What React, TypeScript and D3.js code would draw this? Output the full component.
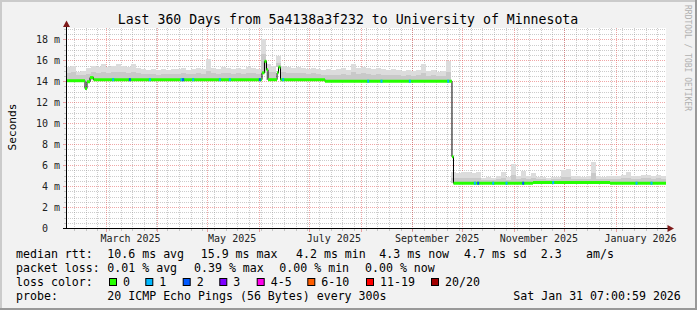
import React from "react";
import * as d3 from "d3";

// ---------- DATA ----------
const START = new Date(Date.UTC(2025, 1, 5, 7, 0, 59));
const END = new Date(Date.UTC(2026, 0, 31, 7, 0, 59));
const BIN_DAYS = 3; // smoke bins, 120 bins over 360 days

// upper edge of the smoke (ms), per 3-day bin
const smokeHi = [
  15.4, 15.5, 14.9, 15.0, 15.3, 15.5, 15.4, 15.6, 15.4, 15.5,
  15.6, 15.5, 15.4, 15.6, 15.3, 15.2, 15.1, 15.2, 15.1, 15.2,
  15.1, 15.2, 15.2, 15.3, 15.1, 15.2, 15.3, 15.2, 16.1, 15.3,
  15.2, 15.4, 15.3, 15.2, 15.3, 15.2, 15.4, 15.3, 15.2, 18.0,
  15.6, 15.5, 16.4, 15.5, 15.4, 15.3, 15.4, 15.3, 15.2, 15.3,
  15.2, 15.1, 15.2, 15.1, 15.2, 15.3, 15.1, 15.6, 15.3, 15.4,
  15.3, 15.2, 15.3, 15.2, 15.1, 15.2, 15.1, 15.0, 15.1, 15.0,
  15.1, 15.6, 15.0, 15.1, 14.9, 15.0, 15.9, 5.3, 5.2, 5.3,
  5.3, 5.2, 5.3, 4.8, 4.9, 4.8, 5.0, 5.3, 4.9, 6.1,
  5.0, 5.4, 5.0, 5.2, 4.9, 4.9, 4.8, 4.9, 4.9, 5.5,
  5.6, 5.0, 5.0, 4.9, 5.0, 6.3, 5.0, 4.9, 5.0, 5.0,
  5.0, 5.1, 5.3, 5.0, 5.0, 5.1, 5.1, 5.0, 5.1, 5.0,
];

// upper edge of the denser inner smoke (ms), per 3-day bin
const smokeMid = [
  14.8, 14.9, 14.6, 14.6, 14.7, 14.9, 14.8, 14.9, 14.8, 14.9,
  14.9, 14.9, 14.8, 14.9, 14.8, 14.7, 14.7, 14.7, 14.6, 14.7,
  14.7, 14.7, 14.7, 14.8, 14.7, 14.7, 14.8, 14.7, 15.0, 14.8,
  14.7, 14.8, 14.8, 14.7, 14.8, 14.7, 14.8, 14.8, 14.7, 16.6,
  14.9, 14.9, 15.7, 14.9, 14.8, 14.8, 14.8, 14.8, 14.7, 14.8,
  14.7, 14.6, 14.6, 14.6, 14.6, 14.7, 14.6, 14.9, 14.7, 14.8,
  14.7, 14.6, 14.7, 14.6, 14.6, 14.6, 14.6, 14.5, 14.6, 14.5,
  14.6, 14.8, 14.5, 14.6, 14.5, 14.5, 14.9, 4.8, 4.8, 4.8,
  4.8, 4.8, 4.8, 4.6, 4.6, 4.6, 4.7, 4.8, 4.6, 5.1,
  4.7, 4.8, 4.7, 4.8, 4.7, 4.7, 4.6, 4.7, 4.7, 4.9,
  4.9, 4.7, 4.7, 4.7, 4.7, 5.2, 4.7, 4.7, 4.7, 4.7,
  4.7, 4.8, 4.8, 4.7, 4.7, 4.8, 4.8, 4.7, 4.8, 4.7,
];

// median rtt (ms) as steps: value holds from its date until the next one
const medianDates = [
  "2025-02-05T07:00:59Z", "2025-02-16T17:00:00Z", "2025-02-17T21:00:00Z",
  "2025-02-19T17:00:00Z", "2025-02-21T19:00:00Z", "2025-06-02T21:00:00Z",
  "2025-06-04T09:00:00Z", "2025-06-05T14:00:00Z", "2025-06-06T12:00:00Z",
  "2025-06-11T22:00:00Z", "2025-06-12T19:00:00Z", "2025-06-14T00:00:00Z",
  "2025-07-10T17:00:00Z", "2025-09-24T21:00:00Z", "2025-09-25T19:00:00Z",
  "2025-11-12T12:00:00Z", "2025-12-28T17:00:00Z",
];
const medianValues = [
  14.05, 13.3, 13.95, 14.35, 14.15, 14.8, 15.9, 15.1, 14.15, 14.8, 15.35,
  14.15, 14.0, 6.8, 4.27, 4.33, 4.27,
];

// samples with packet loss (date, lost pings)
const lossDates = [
  "2025-03-05", "2025-03-15", "2025-03-27", "2025-04-15", "2025-04-16",
  "2025-04-22", "2025-05-08", "2025-05-14", "2025-06-01", "2025-06-15",
  "2025-08-05", "2025-08-13", "2025-08-30", "2025-09-22", "2025-10-08",
  "2025-10-10", "2025-10-19", "2025-10-27", "2025-11-06", "2025-11-24",
  "2026-01-13", "2026-01-22",
];
const lossCounts = [1, 2, 1, 1, 2, 1, 1, 1, 2, 1, 1, 1, 1, 1, 1, 2, 1, 1, 2, 1, 1, 1];

const lossLabels = ["0", "1", "2", "3", "4-5", "6-10", "11-19", "20/20"];
const lossColors = ["#26ff00", "#00b8ff", "#0059ff", "#7e00ff", "#ff00ea", "#ff5e00", "#ff0000", "#a10000"];

const yTickValues = [0, 2, 4, 6, 8, 10, 12, 14, 16, 18];

const titleText = "Last 360 Days from 5a4138a3f232 to University of Minnesota";
const rttLabel = "median rtt:";
const rttItems = ["10.6 ms avg", "15.9 ms max", "4.2 ms min", "4.3 ms now", "4.7 ms sd", "2.3", "am/s"];
const lossLabel = "packet loss:";
const lossItems = ["0.01 % avg", "0.39 % max", "0.00 % min", "0.00 % now"];
const probeLabel = "probe:";
const probeText = "20 ICMP Echo Pings (56 Bytes) every 300s";
const stampText = "Sat Jan 31 07:00:59 2026";

// ---------- LAYOUT ----------
const W = 697, H = 310;
const L = 66, R = 666, T = 28, B = 228;
const MONO = "'DejaVu Sans Mono', 'Liberation Mono', monospace";
const DAY = 86400000;

export default function App() {
  const x = d3.scaleUtc().domain([START, END]).range([L, R]);
  const y = d3.scaleLinear().domain([0, 19.08]).range([B, T]);
  const crisp = (v: number) => Math.round(v) + 0.5;

  const steps = medianDates.map((d, i) => ({ date: new Date(d), v: medianValues[i] }));
  const bis = d3.bisector((d: { date: Date }) => d.date).right;
  const medianAt = (t: Date) => steps[Math.max(0, bis(steps, t) - 1)].v;

  const gridColor = "rgba(143,143,143,0.45)";
  const mgridColor = "rgba(222,60,60,0.45)";

  // grid
  const minorY = d3.range(0.5, 19.08, 0.5).filter((v) => Math.abs(v % 2) > 1e-6);
  const majorY = yTickValues.filter((v) => v > 0);
  const weeks = d3.utcMonday.range(START, END);
  const months = d3.utcMonth.range(START, END);
  const labelMonths = months.filter((m) => m.getUTCMonth() % 2 === 0);
  const fmt = d3.utcFormat("%B %Y");

  // smoke
  const bins = smokeHi.map((hi, i) => {
    const t0 = new Date(START.getTime() + i * BIN_DAYS * DAY);
    const t1 = new Date(START.getTime() + (i + 1) * BIN_DAYS * DAY);
    const tc = new Date((t0.getTime() + t1.getTime()) / 2);
    return { x0: x(t0), x1: x(t1), hi, mid: smokeMid[i], med: medianAt(tc) };
  });

  // black median step line
  const linePts: [number, number][] = steps.map((s) => [x(s.date), y(s.v)]);
  linePts.push([x(END), y(steps[steps.length - 1].v)]);
  const stepLine = d3.line().curve(d3.curveStepAfter)(linePts) || "";

  const rows = [258, 272, 286, 300];
  const rttX = [107.3, 200.7, 296, 379.3, 464, 540.7, 586];
  const lossX = [107.3, 194, 279.3, 365];
  const boxX = [109, 145.3, 182.7, 219.3, 256.7, 307.3, 366, 431];

  return (
    <svg width={W} height={H} style={{ position: "fixed", left: 0, top: 0 }} fontFamily={MONO}>
      <rect x={0} y={0} width={W} height={H} fill="#f2f2f2" />
      {/* 3D border */}
      <rect x={0} y={0} width={W} height={2} fill="#cbcbcb" />
      <rect x={0} y={0} width={2} height={H} fill="#cbcbcb" />
      <rect x={0} y={H - 2} width={W} height={2} fill="#999999" />
      <rect x={W - 2} y={0} width={2} height={H} fill="#999999" />

      {/* canvas */}
      <rect x={L} y={T} width={R - L} height={B - T} fill="#ffffff" />

      {/* minor grid */}
      <g stroke={gridColor} strokeWidth={1} strokeDasharray="1,1" fill="none">
        {minorY.map((v) => (
          <line key={"my" + v} x1={L} x2={R} y1={crisp(y(v))} y2={crisp(y(v))} />
        ))}
        {weeks.map((w) => (
          <line key={"mx" + w.getTime()} x1={crisp(x(w))} x2={crisp(x(w))} y1={T} y2={B} />
        ))}
      </g>
      {/* major grid */}
      <g stroke={mgridColor} strokeWidth={1} strokeDasharray="1,1" fill="none">
        {majorY.map((v) => (
          <line key={"My" + v} x1={L} x2={R} y1={crisp(y(v))} y2={crisp(y(v))} />
        ))}
        {months.map((m) => (
          <line key={"Mx" + m.getTime()} x1={crisp(x(m))} x2={crisp(x(m))} y1={T} y2={B} />
        ))}
      </g>
      {/* ticks */}
      <g strokeWidth={1}>
        {minorY.map((v) => (
          <line key={"ty" + v} x1={64} x2={66} y1={crisp(y(v))} y2={crisp(y(v))} stroke={gridColor} />
        ))}
        {yTickValues.map((v) => (
          <line key={"tY" + v} x1={63} x2={66} y1={crisp(y(v))} y2={crisp(y(v))} stroke={v === 0 ? "#000" : mgridColor} />
        ))}
        {weeks.map((w) => (
          <line key={"tx" + w.getTime()} x1={crisp(x(w))} x2={crisp(x(w))} y1={229} y2={231} stroke={gridColor} />
        ))}
        {months.map((m) => (
          <line key={"tX" + m.getTime()} x1={crisp(x(m))} x2={crisp(x(m))} y1={229} y2={232} stroke={mgridColor} />
        ))}
      </g>

      {/* smoke */}
      <g shapeRendering="crispEdges">
        {bins.map((b, i) => (
          <rect key={"sh" + i} x={b.x0} y={y(b.hi)} width={b.x1 - b.x0} height={Math.max(0, y(b.med) - y(b.hi))} fill="#dcdcdc" />
        ))}
        {bins.map((b, i) => (
          <rect key={"sm" + i} x={b.x0} y={y(b.mid)} width={b.x1 - b.x0} height={Math.max(0, y(b.med) - y(b.mid))} fill="#c9c9c9" />
        ))}
      </g>

      {/* median */}
      <path d={stepLine} fill="none" stroke="#000" strokeWidth={1} />
      <g strokeWidth={3} fill="none">
        {steps.map((s, i) => {
          const tEnd = i + 1 < steps.length ? steps[i + 1].date : END;
          return <line key={"g" + i} x1={x(s.date)} x2={x(tEnd)} y1={y(s.v)} y2={y(s.v)} stroke={lossColors[0]} />;
        })}
        {lossDates.map((d, i) => {
          const t0 = new Date(d + "T00:00:00Z");
          const t1 = new Date(t0.getTime() + 1.2 * DAY);
          const v = medianAt(t0);
          return <line key={"l" + i} x1={x(t0)} x2={x(t1)} y1={y(v)} y2={y(v)} stroke={lossColors[lossCounts[i]]} />;
        })}
      </g>

      {/* axes */}
      <line x1={66.5} x2={66.5} y1={B + 0.5} y2={24} stroke="#000" strokeWidth={1} />
      <line x1={L} x2={670} y1={228.5} y2={228.5} stroke="#000" strokeWidth={1} />
      <path d="M66.5,20.5 L63,27 L70,27 Z" fill="#7f1a1a" />
      <path d="M674,228.5 L667.5,225 L667.5,232 Z" fill="#7f1a1a" />

      {/* y labels */}
      <g fontSize={10} fill="#222">
        {yTickValues.map((v) => (
          <text key={"yl" + v} x={v === 0 ? 48 : 60} y={y(v) + 3.6} textAnchor="end">
            {v === 0 ? "0" : `${v} m`}
          </text>
        ))}
      </g>
      {/* x labels */}
      <g fontSize={10} fill="#222">
        {labelMonths.map((m) => (
          <text key={"xl" + m.getTime()} x={x(new Date(m.getTime() + 15 * DAY))} y={241.5} textAnchor="middle">
            {fmt(m)}
          </text>
        ))}
      </g>

      {/* y axis title */}
      <text transform="translate(15.5,127) rotate(-90)" textAnchor="middle" fontSize={11.2} fill="#000">
        Seconds
      </text>

      {/* title */}
      <text x={348} y={24} textAnchor="middle" fontSize={13.2} fill="#000">
        {titleText}
      </text>

      {/* watermark */}
      <text transform="translate(685,5) rotate(90)" fontSize={8} fill="#b0b0b0">
        RRDTOOL / TOBI OETIKER
      </text>

      {/* legend */}
      <g fontSize={11.6} fill="#000">
        <text x={16} y={rows[0]}>{rttLabel}</text>
        {rttItems.map((t, i) => (
          <text key={"r" + i} x={rttX[i]} y={rows[0]}>{t}</text>
        ))}
        <text x={16} y={rows[1]}>{lossLabel}</text>
        {lossItems.map((t, i) => (
          <text key={"p" + i} x={lossX[i]} y={rows[1]}>{t}</text>
        ))}
        <text x={16} y={rows[2]}>loss color:</text>
        {lossLabels.map((t, i) => (
          <g key={"lc" + i}>
            <rect x={boxX[i] + 0.5} y={278.5} width={7} height={7} fill={lossColors[i]} stroke="#000" strokeWidth={1} />
            <text x={boxX[i] + 14} y={rows[2]}>{t}</text>
          </g>
        ))}
        <text x={16} y={rows[3]}>{probeLabel}</text>
        <text x={107.3} y={rows[3]}>{probeText}</text>
        <text x={513.3} y={rows[3]}>{stampText}</text>
      </g>
    </svg>
  );
}
